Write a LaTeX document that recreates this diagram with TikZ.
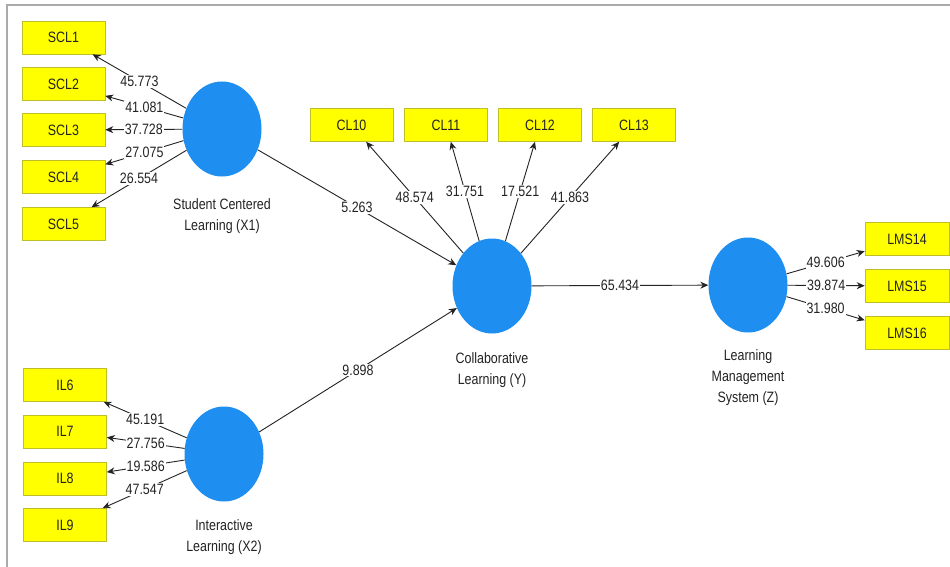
\documentclass[tikz,border=0pt]{standalone}
\usepackage{fontspec}
\setmainfont{Liberation Sans}[FakeStretch=0.83]
\usetikzlibrary{shapes.geometric,arrows.meta}
\definecolor{boxyellow}{RGB}{255,255,0}
\definecolor{boxedge}{RGB}{190,190,40}
\definecolor{latblue}{RGB}{30,142,240}
\definecolor{inkgray}{RGB}{35,35,35}
\definecolor{framegray}{RGB}{170,170,170}
\tikzset{
  ind/.style={rectangle, fill=boxyellow, draw=boxedge, line width=0.6pt,
    minimum width=83pt, minimum height=33pt, inner sep=0pt, text=inkgray,
    font=\fontsize{15}{17}\selectfont},
  lat/.style={ellipse, fill=latblue, draw=none, inner sep=0pt,
    minimum width=79pt, minimum height=95pt},
  latlbl/.style={align=center, text=inkgray, font=\fontsize{15}{21}\selectfont},
  arr/.style={draw=inkgray, line width=0.9pt, -{Stealth[length=8pt,width=7pt]}},
  lbl/.style={fill=white, inner sep=1pt, text=inkgray, pos=0.5,
    font=\fontsize{15}{17}\selectfont}
}
\begin{document}
\begin{tikzpicture}[x=1pt,y=-1pt]
\useasboundingbox (0,0) rectangle (950,567);
\fill[white] (0,0) rectangle (950,567);
\draw[framegray, line width=1.5pt] (7,567) -- (7,5) -- (950,5);

% indicators
\node[ind] (SCL1) at (63.5,37.5) {SCL1};
\node[ind] (SCL2) at (63.5,84) {SCL2};
\node[ind] (SCL3) at (63.5,130) {SCL3};
\node[ind] (SCL4) at (63.5,177) {SCL4};
\node[ind] (SCL5) at (63.5,224) {SCL5};
\node[ind] (IL6) at (65,385) {IL6};
\node[ind] (IL7) at (65,431.5) {IL7};
\node[ind] (IL8) at (65,478.5) {IL8};
\node[ind] (IL9) at (65,525) {IL9};
\node[ind] (CL10) at (351.5,125) {CL10};
\node[ind] (CL11) at (446,125) {CL11};
\node[ind] (CL12) at (540,125) {CL12};
\node[ind] (CL13) at (634,125) {CL13};
\node[ind, minimum width=84pt] (LMS14) at (907,239) {LMS14};
\node[ind, minimum width=84pt] (LMS15) at (907,286) {LMS15};
\node[ind, minimum width=84pt] (LMS16) at (907,333) {LMS16};

% latent variables
\node[lat] (X1) at (222,129) {};
\node[lat] (X2) at (224,454) {};
\node[lat] (Y) at (492,286) {};
\node[lat] (Z) at (748,285) {};

\node[latlbl] (X1l) at (222,216) {Student Centered\\Learning (X1)};
\node[latlbl] (X2l) at (224,537) {Interactive\\Learning (X2)};
\node[latlbl] (Yl) at (492,370) {Collaborative\\Learning (Y)};
\node[latlbl] (Zl) at (748,378) {Learning\\Management\\System (Z)};

% outer loadings
\draw[arr] (X1) -- node[lbl]{45.773} (SCL1);
\draw[arr] (X1) -- node[lbl]{41.081} (SCL2);
\draw[arr] (X1) -- node[lbl]{37.728} (SCL3);
\draw[arr] (X1) -- node[lbl]{27.075} (SCL4);
\draw[arr] (X1) -- node[lbl]{26.554} (SCL5);

\draw[arr] (X2) -- node[lbl]{45.191} (IL6);
\draw[arr] (X2) -- node[lbl]{27.756} (IL7);
\draw[arr] (X2) -- node[lbl]{19.586} (IL8);
\draw[arr] (X2) -- node[lbl]{47.547} (IL9);

\draw[arr] (Y) -- node[lbl]{48.574} (CL10);
\draw[arr] (Y) -- node[lbl]{31.751} (CL11);
\draw[arr] (Y) -- node[lbl]{17.521} (CL12);
\draw[arr] (Y) -- node[lbl]{41.863} (CL13);

\draw[arr] (Z) -- node[lbl]{49.606} (LMS14);
\draw[arr] (Z) -- node[lbl]{39.874} (LMS15);
\draw[arr] (Z) -- node[lbl]{31.980} (LMS16);

% structural paths
\draw[arr] (X1) -- node[lbl]{5.263} (Y);
\draw[arr] (X2) -- node[lbl]{9.898} (Y);
\draw[arr] (Y) -- node[lbl]{65.434} (Z);
\end{tikzpicture}
\end{document}
